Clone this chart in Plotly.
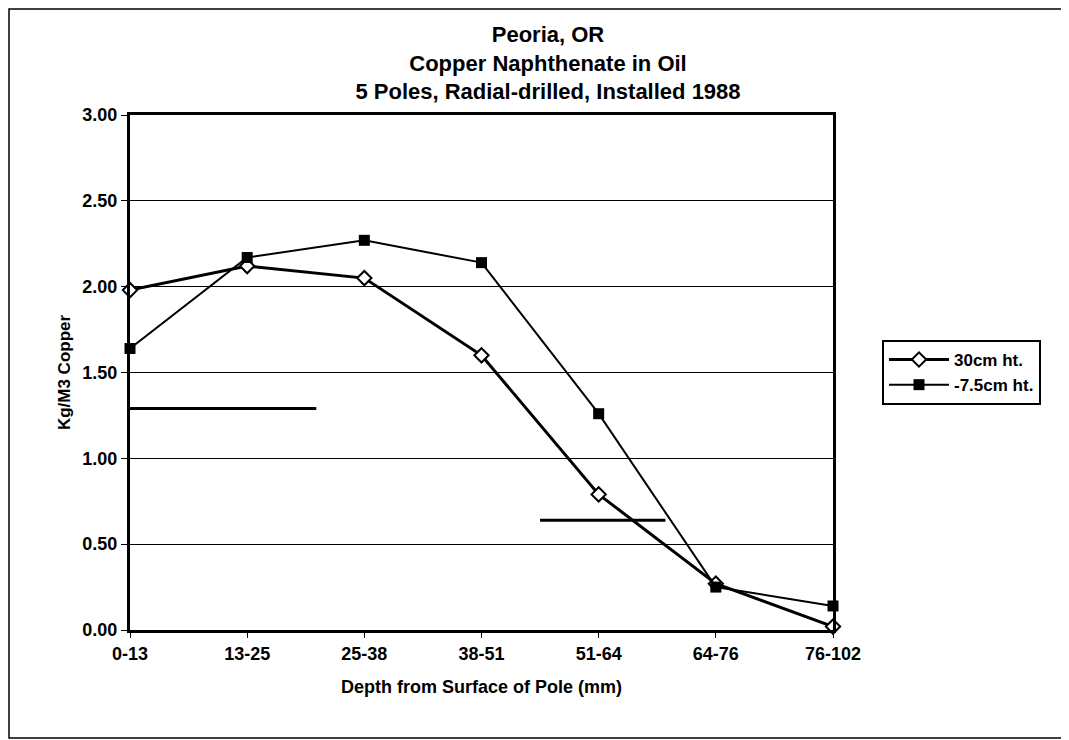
import plotly.graph_objects as go

# depth bands and copper retention (kg/m3)
depths = ['0-13', '13-25', '25-38', '38-51', '51-64', '64-76', '76-102']
ht_30cm = [1.98, 2.12, 2.05, 1.60, 0.79, 0.27, 0.02]
ht_minus75 = [1.64, 2.17, 2.27, 2.14, 1.26, 0.25, 0.14]

# threshold bars drawn on the chart: value, start and end (category index)
threshold_vals = [1.29, 0.64]
threshold_from = [0.0, 3.5]
threshold_to = [1.59, 4.57]

FONT = 'Liberation Sans, Arial'
# page body adds an 8px offset, so the figure is 8px smaller
W, H = 1061, 732
L, R, T, B = 122, 236, 107, 110
pw, ph = W - L - R, H - T - B

xi = list(range(len(depths)))

fig = go.Figure()
fig.add_trace(go.Scatter(
    x=xi, y=ht_30cm, name='30cm ht.', mode='lines+markers',
    line=dict(color='black', width=3),
    marker=dict(symbol='diamond', size=11, color='white', line=dict(color='black', width=2)),
    cliponaxis=False
))
fig.add_trace(go.Scatter(
    x=xi, y=ht_minus75, name='-7.5cm ht.', mode='lines+markers',
    line=dict(color='black', width=2),
    marker=dict(symbol='square', size=11, color='black'),
    cliponaxis=False
))

for v, a, b in zip(threshold_vals, threshold_from, threshold_to):
    fig.add_shape(type='line', xref='x', yref='y', x0=a, x1=b, y0=v, y1=v,
                  line=dict(color='black', width=3))

# outer frame around the whole chart
fig.add_shape(type='rect', xref='paper', yref='paper',
              x0=(1 - L) / pw, x1=(1058 - L) / pw,
              y0=(T + ph - 730) / ph, y1=(T + ph - 1) / ph,
              line=dict(color='black', width=1.5), layer='below')

fig.update_layout(
    width=W, height=H,
    margin=dict(l=L, r=R, t=T, b=B),
    paper_bgcolor='white', plot_bgcolor='white',
    font=dict(family=FONT, color='black', size=18),
    title=dict(
        text='<b>Peoria, OR<br>Copper Naphthenate in Oil<br>5 Poles, Radial-drilled, Installed 1988</b>',
        x=540 / W, xanchor='center', y=1 - 34 / H, yanchor='top',
        font=dict(size=22, family=FONT)
    ),
    xaxis=dict(
        range=[0, 6], tickmode='array', tickvals=xi,
        ticktext=['<b>%s</b>' % d for d in depths],
        showgrid=False, zeroline=False,
        showline=True, linecolor='black', linewidth=3, mirror=True,
        ticks='outside', ticklen=5, tickcolor='black',
        tickfont=dict(size=18),
        title=dict(text='<b>Depth from Surface of Pole (mm)</b>', font=dict(size=18), standoff=18)
    ),
    yaxis=dict(
        range=[0, 3], tickvals=[0, 0.5, 1, 1.5, 2, 2.5, 3],
        tickformat='.2f', showgrid=True, gridcolor='black', gridwidth=1,
        zeroline=False, showline=True, linecolor='black', linewidth=3, mirror=True,
        ticks='outside', ticklen=6, tickcolor='black',
        tickfont=dict(size=18, family=FONT, weight='bold'),
        title=dict(text='<b>Kg/M3 Copper</b>', font=dict(size=17), standoff=8)
    ),
    legend=dict(
        x=(874 - L) / pw, y=(T + ph - 332) / ph,
        xanchor='left', yanchor='top',
        bgcolor='white', bordercolor='black', borderwidth=2,
        font=dict(size=17, family=FONT, weight='bold'),
        itemwidth=60, tracegroupgap=0
    ),
    showlegend=True
)

fig.write_html('out.html')
